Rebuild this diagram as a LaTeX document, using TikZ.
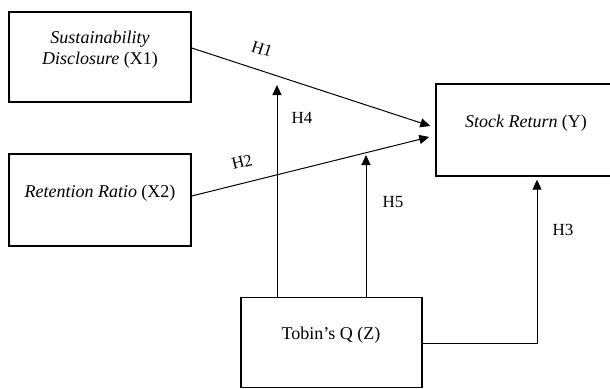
\documentclass[tikz,border=0pt]{standalone}
\usepackage{fontspec}
\setmainfont{Liberation Serif}
\usetikzlibrary{arrows.meta}
\begin{document}
\begin{tikzpicture}[x=1pt,y=-1pt,
  box/.style={draw, line width=1.4pt, rectangle, inner sep=0pt},
  txt/.style={font=\fontsize{18}{21}\selectfont, align=center, inner sep=0pt},
  hlab/.style={font=\fontsize{17}{20}\selectfont, inner sep=0pt},
  arr/.style={line width=1pt, -{Triangle[length=10pt,width=9pt]}}]
\useasboundingbox (0,0) rectangle (610,388);
\clip (0,0) rectangle (610,388);
% boxes
\node[box, minimum width=182pt, minimum height=90pt] (x1) at (100,57) {};
\node[box, minimum width=182pt, minimum height=92pt] (x2) at (100,200) {};
\node[box, minimum width=180pt, minimum height=92pt] (y) at (526,130) {};
\node[box, minimum width=181pt, minimum height=90pt] (z) at (331.5,342.5) {};
% texts
\node[txt] (tx1) at (100,50) {\textit{Sustainability}\\\textit{Disclosure} (X1)};
\node[txt] (tx2) at (100,193) {\textit{Retention Ratio} (X2)};
\node[txt] (ty) at (526,123) {\textit{Stock Return} (Y)};
\node[txt] (tz) at (331,335) {Tobin’s Q (Z)};
% coordinates
\coordinate (h4top) at (277,85);
\coordinate (h5top) at (366,155);
\coordinate (h3c) at (537,343);
% connectors
\draw[arr] ([yshift=9pt]x1.east) -- ([xshift=-5pt,yshift=4pt]y.west);
\draw[arr] ([yshift=4pt]x2.east) -- ([xshift=-6pt,yshift=-7pt]y.west);
\draw[arr] (h4top |- z.north) -- (h4top);
\draw[arr] (h5top |- z.north) -- (h5top);
\draw[arr, shorten >=3pt] (z.east |- h3c) -- (h3c) -- (h3c |- y.south);
% labels
\node[hlab, rotate=-18] (lh1) at (262,49) {H1};
\node[hlab, rotate=14] (lh2) at (242,162) {H2};
\node[hlab] (lh4) at (302,118) {H4};
\node[hlab] (lh5) at (393,202) {H5};
\node[hlab] (lh3) at (563,230) {H3};
\end{tikzpicture}
\end{document}
